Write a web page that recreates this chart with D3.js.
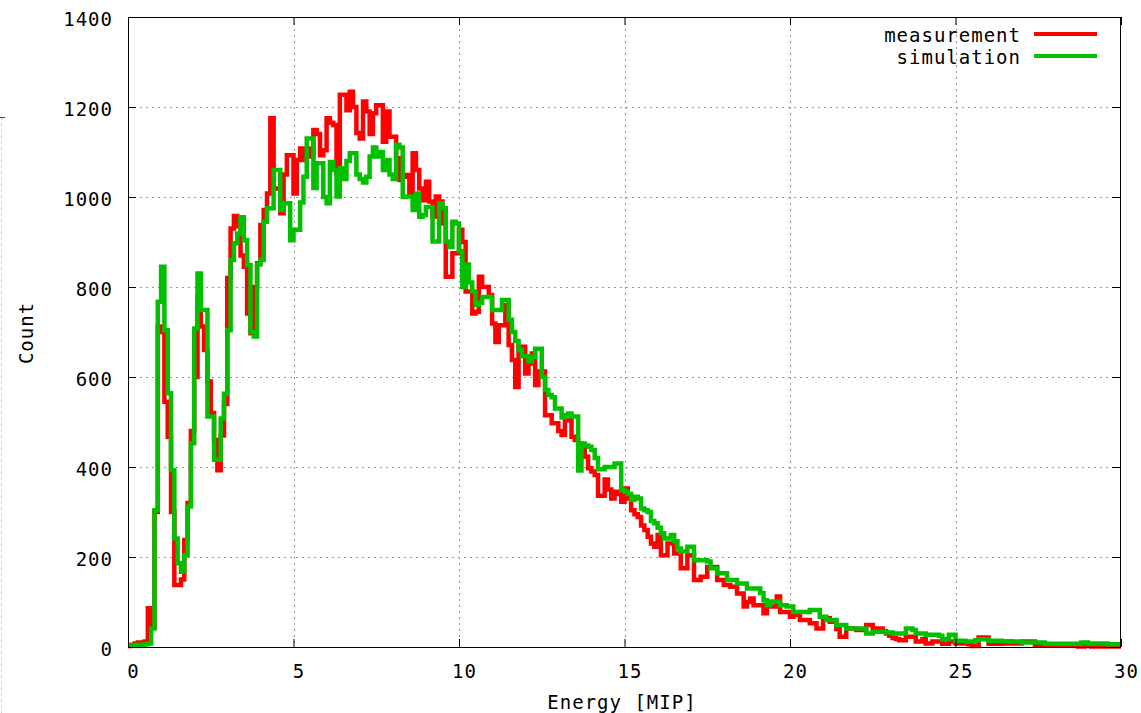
<!DOCTYPE html>
<html>
<head>
<meta charset="utf-8">
<script src="https://cdn.jsdelivr.net/npm/d3@7"></script>
<style>
  body { margin: 0; background: #fff; }
  text { font-family: "DejaVu Sans Mono", monospace; font-size: 19px; letter-spacing: 1px; fill: #000; }
</style>
</head>
<body>
<svg id="chart" width="1141" height="713"></svg>
<script>
// histogram bins, 0.1 MIP wide, from 0 to 30 MIP
const binWidth = 0.1;

const measurement = [
  2, 5, 8, 10, 8, 12, 86, 45, 300, 712,
  700, 545, 467, 300, 138, 138, 150, 238, 320, 480,
  600, 780, 712, 660, 590, 520, 460, 393, 470, 540,
  820, 930, 958, 935, 870, 845, 741, 697, 800, 853,
  938, 971, 1008, 1175, 1019, 1019, 964, 1050, 1093, 1093,
  1008, 1082, 1108, 1082, 1108, 1090, 1149, 1140, 1093, 1104,
  1175, 1165, 1160, 1053, 1227, 1227, 1193, 1234, 1200, 1142,
  1130, 1212, 1190, 1140, 1186, 1204, 1204, 1123, 1190, 1134,
  1134, 1086, 1038, 1045, 1049, 1008, 1097, 1060, 1019, 993,
  1034, 990, 956, 1001, 990, 941, 823, 823, 875, 875,
  927, 900, 790, 790, 741, 745, 823, 800, 800, 782,
  719, 678, 715, 715, 760, 671, 638, 578, 667, 667,
  608, 630, 652, 582, 612, 612, 515, 515, 497, 497,
  480, 471, 504, 504, 467, 460, 452, 440, 423, 397,
  390, 382, 336, 336, 372, 350, 330, 345, 340, 323,
  352, 330, 304, 295, 289, 270, 260, 245, 230, 223,
  249, 204, 204, 230, 230, 208, 208, 175, 175, 204,
  204, 149, 149, 156, 156, 178, 178, 178, 149, 149,
  138, 138, 134, 134, 119, 119, 90, 100, 108, 93,
  93, 93, 75, 90, 90, 90, 112, 78, 78, 78,
  67, 71, 71, 60, 60, 60, 53, 53, 41, 41,
  64, 64, 56, 56, 40, 23, 23, 41, 41, 41,
  38, 38, 38, 49, 49, 41, 41, 41, 35, 30,
  25, 20, 18, 15, 15, 23, 23, 23, 12, 12,
  17, 8, 8, 12, 12, 12, 7, 7, 12, 12,
  8, 8, 8, 8, 6, 2, 2, 21, 21, 21,
  7, 7, 7, 7, 8, 8, 8, 8, 8, 8,
  12, 12, 12, 12, 4, 4, 4, 4, 4, 4,
  4, 4, 4, 4, 4, 4, 4, 1, 1, 4,
  4, 1, 1, 1, 1, 1, 1, 1, 1, 1
];

const simulation = [
  3, 4, 5, 4, 5, 6, 8, 41, 304, 767,
  845, 704, 564, 393, 241, 186, 167, 204, 312, 453,
  708, 830, 749, 749, 512, 512, 416, 416, 508, 563,
  704, 860, 897, 919, 955, 904, 849, 700, 690, 850,
  860, 945, 975, 975, 1060, 1060, 971, 986, 986, 904,
  927, 927, 988, 1045, 1130, 1130, 1020, 1075, 1075, 1000,
  986, 1078, 1060, 1001, 1064, 1040, 1080, 1097, 1097, 1050,
  1040, 1032, 1045, 1090, 1110, 1090, 1100, 1060, 1082, 1050,
  1040, 1116, 1110, 1000, 1001, 1001, 971, 1008, 956, 960,
  978, 978, 901, 901, 986, 975, 901, 889, 945, 941,
  880, 800, 850, 810, 790, 760, 765, 778, 778, 778,
  749, 749, 749, 771, 771, 727, 700, 680, 660, 646,
  646, 635, 645, 663, 663, 600, 571, 560, 555, 530,
  530, 510, 515, 519, 512, 512, 392, 452, 448, 445,
  438, 420, 395, 395, 400, 400, 400, 408, 408, 349,
  345, 340, 327, 334, 330, 308, 304, 300, 280, 275,
  265, 253, 241, 241, 249, 235, 219, 212, 212, 223,
  223, 193, 193, 193, 193, 190, 175, 175, 164, 164,
  164, 149, 149, 149, 141, 141, 141, 130, 130, 130,
  130, 120, 104, 93, 101, 101, 101, 93, 93, 90,
  90, 78, 78, 78, 78, 78, 82, 82, 82, 67,
  67, 60, 60, 60, 49, 49, 49, 41, 41, 41,
  41, 41, 41, 30, 30, 34, 34, 34, 34, 32,
  32, 30, 30, 30, 30, 41, 41, 38, 30, 30,
  30, 27, 27, 27, 27, 25, 17, 17, 27, 27,
  14, 14, 14, 12, 12, 12, 15, 17, 17, 17,
  14, 14, 14, 14, 13, 13, 13, 12, 12, 12,
  10, 10, 10, 10, 10, 10, 10, 7, 7, 7,
  7, 7, 7, 7, 7, 7, 7, 7, 10, 10,
  8, 8, 8, 8, 8, 8, 6, 6, 6, 6
];

const xTicks = [0, 5, 10, 15, 20, 25, 30];
const yTicks = [0, 200, 400, 600, 800, 1000, 1200, 1400];
const seriesNames = ["measurement", "simulation"];
const seriesColors = ["#ff0000", "#00c000"];

const svg = d3.select("#chart");
const plotLeft = 128, plotRight = 1121, plotTop = 17, plotBottom = 647;

const x = d3.scaleLinear().domain([0, 30]).range([plotLeft, plotRight]);
const y = d3.scaleLinear().domain([0, 1400]).range([plotBottom, plotTop]);

// bit of the neighbouring plot visible on the left edge
svg.append("line").attr("x1", 1.5).attr("x2", 1.5).attr("y1", 117).attr("y2", 713)
  .attr("stroke", "#cfcfcf").attr("stroke-dasharray", "3,3");
svg.append("line").attr("x1", 0).attr("x2", 5).attr("y1", 117.5).attr("y2", 117.5).attr("stroke", "#444");

// grid
let grid = svg.append("g").attr("class", "grid")
  .attr("stroke", "#979797").attr("stroke-width", 1).attr("stroke-dasharray", "2,4");
grid.selectAll(".gx").data(xTicks.slice(1, -1)).enter().append("line")
  .attr("x1", d => Math.round(x(d)) + 0.5).attr("x2", d => Math.round(x(d)) + 0.5)
  .attr("y1", plotTop).attr("y2", plotBottom);
grid.selectAll(".gy").data(yTicks.slice(1, -1)).enter().append("line")
  .attr("y1", d => Math.round(y(d)) + 0.5).attr("y2", d => Math.round(y(d)) + 0.5)
  .attr("x1", plotLeft).attr("x2", plotRight);

// histogram steps
function stepPoints(values){
  let pts = values.map((v, i) => [i * binWidth, v]);
  pts.push([values.length * binWidth, values[values.length - 1]]);
  return pts;
}
let stepLine = d3.line().x(d => x(d[0])).y(d => y(d[1])).curve(d3.curveStepAfter);

[measurement, simulation].forEach(function(values, k){
  svg.append("path")
    .attr("d", stepLine(stepPoints(values)))
    .attr("fill", "none")
    .attr("stroke", seriesColors[k])
    .attr("stroke-width", 4.5)
    .attr("stroke-linejoin", "miter");
});

// frame
svg.append("rect").attr("x", plotLeft + 0.5).attr("y", plotTop + 0.5)
  .attr("width", plotRight - plotLeft - 1).attr("height", plotBottom - plotTop)
  .attr("fill", "none").attr("stroke", "#000").attr("stroke-width", 1);

// axes, ticks pointing inwards on all sides
let gBottom = svg.append("g").attr("transform", "translate(0," + plotBottom + ")")
  .call(d3.axisBottom(x).tickValues(xTicks).tickSize(-8).tickFormat(d3.format("d")));
let gTop = svg.append("g").attr("transform", "translate(0," + plotTop + ")")
  .call(d3.axisTop(x).tickValues(xTicks).tickSize(-8).tickFormat(""));
let gLeft = svg.append("g").attr("transform", "translate(" + plotLeft + ",0)")
  .call(d3.axisLeft(y).tickValues(yTicks).tickSize(-8).tickFormat(d3.format("d")));
let gRight = svg.append("g").attr("transform", "translate(" + (plotRight - 1) + ",0)")
  .call(d3.axisRight(y).tickValues(yTicks).tickSize(-8).tickFormat(""));

[gBottom, gTop, gLeft, gRight].forEach(g => {
  g.select(".domain").remove();
  g.attr("font-family", null).attr("font-size", null);
});

gBottom.selectAll("text").attr("y", 31).attr("dy", null).attr("dx", 5);
gLeft.selectAll("text").attr("x", -15).attr("dy", null).attr("y", 8.5);

// axis titles
svg.append("text").attr("transform", "translate(33,333) rotate(-90)")
  .attr("text-anchor", "middle").text("Count");
svg.append("text").attr("x", 622).attr("y", 709)
  .attr("text-anchor", "middle").text("Energy [MIP]");

// legend
let legend = svg.append("g").attr("class", "legend");
seriesNames.forEach(function(name, k){
  let yy = 34 + k * 22;
  legend.append("text").attr("x", 1021).attr("y", yy + 8)
    .attr("text-anchor", "end").text(name);
  legend.append("line").attr("x1", 1034).attr("x2", 1097).attr("y1", yy).attr("y2", yy)
    .attr("stroke", seriesColors[k]).attr("stroke-width", 4);
});
</script>
</body>
</html>
